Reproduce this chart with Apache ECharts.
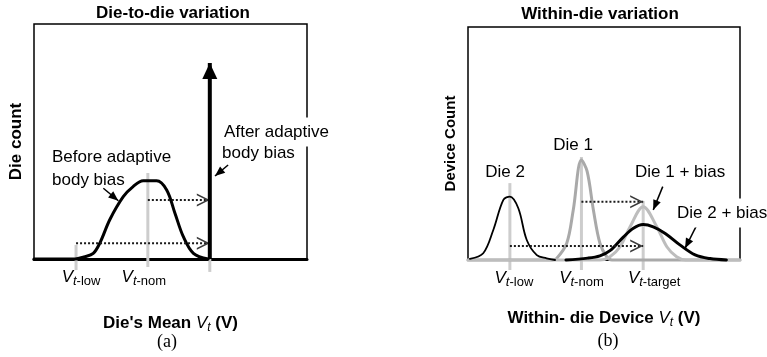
<!DOCTYPE html>
<html>
<head>
<meta charset="utf-8">
<script src="https://cdn.jsdelivr.net/npm/echarts@6/dist/echarts.min.js"></script>
<style>
  html, body { margin: 0; padding: 0; background: #fff; }
  #chart { width: 767px; height: 357px; }
</style>
</head>
<body>
<div id="chart"></div>
<script>
// ---- Vt markers shared by both panels (arbitrary units along the Vt axis) ----
const vtTicks = [15.4, 41.7, 64.4];
const vtTickNames = ['low', 'nom', 'target'];

// ---- (a) Die-to-die variation ----
const dieMeanVt = [0, 15.0, 18.3, 21.7, 24.2, 27.8, 32.7, 36.3, 40.0, 44.9, 48.6, 51.6, 54.7, 58.4, 63.8];
const dieCountBefore = [0, 0, 0.9, 2.4, 7.0, 16.8, 26.5, 30.8, 33.3, 33.3, 29.4, 19.6, 9.5, 2.4, 0];
const dieCountAfter = 83.4;              // every die lands on Vt-target
const shiftFromA = [41.7, 15.4];         // body-bias shift arrows start here ...
const shiftLevelA = [25.1, 6.7];         // ... at these counts, and end at Vt-target
const markerSpanA = [[-4.7, 6.0], [-3.4, 36.6], [-5.5, 0]];

// ---- (b) Within-die variation ----
const die2Vt = [0.7, 5.6, 9.3, 13.0, 15.4, 18.5, 21.6, 25.3, 28.9, 32.0];
const die2Count = [0.5, 2.9, 12.9, 25.8, 27.2, 22.2, 8.6, 2.1, 0.7, 0];
const die1Vt = [0, 30.9, 32.6, 36.3, 38.7, 41.7, 43.8, 46.1, 48.5, 51.0, 52.9, 100];
const die1Count = [0, 0, 0.7, 7.2, 21.5, 42.9, 38.0, 21.5, 7.2, 1.4, 0, 0];
const die1BiasVt = [0, 48.5, 52.2, 55.9, 59.6, 64.4, 69.4, 73.1, 76.7, 80.1, 100];
const die1BiasCount = [0, 0, 1.4, 5.7, 14.3, 22.9, 14.3, 5.7, 1.4, 0, 0];
const die2BiasVt = [36.0, 44.0, 48.5, 52.2, 57.1, 60.8, 64.4, 68.1, 72.5, 77.9, 83.5, 89.0, 95.0];
const die2BiasCount = [0, 0.8, 1.8, 4.0, 9.8, 13.6, 15.2, 14.2, 11.4, 6.5, 2.2, 0.6, 0];
const shiftFromB = [41.7, 15.4];
const shiftLevelB = [25.0, 6.0];
const markerSpanB = [[-4.3, 33.0], [-4.3, 44.2], [-4.3, 25.3]];

// ---- text annotations: [x, y, text] ----
const notesA = [
  [6.6, 43.4, 'Before adaptive'],
  [6.6, 33.6, 'body bias'],
  [68.9, 54.0, 'After adaptive'],
  [68.9, 45.1, 'body bias']
];
const pointersA = [[[25.4, 30.1], [30.9, 24.8]], [[71.1, 40.0], [66.3, 35.3]]];
const notesB = [
  [38.6, 49.4, 'Die 1'],
  [13.6, 37.8, 'Die 2'],
  [61.4, 37.8, 'Die 1 + bias'],
  [76.1, 20.2, 'Die 2 + bias']
];
const pointersB = [[[71.6, 31.5], [68.1, 21.5]], [[84.1, 15.0], [79.8, 5.0]]];

const SANS = '"Liberation Sans", Arial, sans-serif';
const SERIF = '"Liberation Serif", "Times New Roman", serif';
const MARKER_GRAY = '#cdcdcd';
const CHEVRON = 'path://M0,0 L13,6.5 L0,13 L0,11.2 L9.6,6.5 L0,1.8 Z';

const chart = echarts.init(document.getElementById('chart'));

function pairs(xs, ys) { return xs.map((x, i) => [x, ys[i]]); }

function curve(g, xs, ys, color, width) {
  return {
    type: 'line', xAxisIndex: g, yAxisIndex: g, data: pairs(xs, ys),
    smooth: 0.35, symbol: 'none', clip: false, silent: true,
    lineStyle: { color: color, width: width, cap: 'round', join: 'round' }
  };
}

function markers(g, spans) {
  return vtTicks.map((x, i) => ({
    type: 'line', xAxisIndex: g, yAxisIndex: g, symbol: 'none', clip: false, silent: true,
    data: [[x, spans[i][0]], [x, spans[i][1]]],
    lineStyle: { color: MARKER_GRAY, width: 3, cap: 'butt' }
  }));
}

function shifts(g, froms, levels) {
  const out = [];
  froms.forEach((x0, i) => {
    out.push({
      type: 'line', xAxisIndex: g, yAxisIndex: g, symbol: 'none', clip: false, silent: true,
      data: [[x0, levels[i]], [vtTicks[2], levels[i]]],
      lineStyle: { color: '#1a1a1a', width: 2, type: [2, 2] }
    });
  });
  out.push({
    type: 'scatter', xAxisIndex: g, yAxisIndex: g, silent: true, clip: false,
    symbol: CHEVRON, symbolSize: [13, 13], symbolOffset: [-6.5, 0],
    itemStyle: { color: '#3a3a3a', opacity: 1 }, z: 4,
    data: levels.map(l => [vtTicks[2], l])
  });
  return out;
}

function notes(g, list, centered, whiteIdx) {
  return {
    type: 'scatter', xAxisIndex: g, yAxisIndex: g, silent: true, clip: false,
    symbolSize: 0, z: 6, itemStyle: { opacity: 1 },
    data: list.map((n, i) => ({
      value: [n[0], n[1]],
      label: {
        show: true, formatter: n[2], position: [0, 0], opacity: 1,
        align: centered.indexOf(i) >= 0 ? 'center' : 'left', verticalAlign: 'middle',
        fontFamily: SANS, fontSize: 17, color: '#000', textBorderWidth: 0,
        backgroundColor: i === whiteIdx ? '#fff' : 'transparent',
        padding: i === whiteIdx ? [6, 2, 6, 2] : 0
      }
    }))
  };
}

function pointers(g, list) {
  return {
    type: 'line', xAxisIndex: g, yAxisIndex: g, data: [], silent: true,
    markLine: {
      silent: true, animation: false,
      symbol: ['none', 'triangle'], symbolSize: [8, 10], symbolOffset: [[0, 0], [0, 5]],
      lineStyle: { color: '#000', width: 1.5, type: 'solid' },
      label: { show: false },
      emphasis: { disabled: true },
      data: list.map(p => [{ coord: p[0] }, { coord: p[1] }])
    }
  };
}

// tick labels: V with subscript "t-xxx", nudged sideways by `shift` px
function tickLabels(shift) {
  const rich = {};
  vtTickNames.forEach((n, i) => {
    const s = shift[i];
    rich['v' + i] = { fontFamily: SANS, fontSize: 17, fontStyle: 'italic', color: '#000', lineHeight: 22,
                      padding: [0, 0, 0, s > 0 ? 2 * s : 0] };
    rich['t' + i] = { fontFamily: SANS, fontSize: 13, fontStyle: 'italic', color: '#000', lineHeight: 8, verticalAlign: 'bottom' };
    rich['s' + i] = { fontFamily: SANS, fontSize: 13, color: '#000', lineHeight: 8, verticalAlign: 'bottom',
                      padding: [0, s < 0 ? -2 * s : 0, 0, 0] };
  });
  return {
    show: true, customValues: vtTicks, margin: 7,
    formatter: v => {
      const i = vtTicks.indexOf(v);
      return i < 0 ? '' : '{v' + i + '|V}{t' + i + '|t}{s' + i + '|-' + vtTickNames[i] + '}';
    },
    rich: rich
  };
}

const nameRich = {
  b: { fontFamily: SANS, fontSize: 17, fontWeight: 'bold', color: '#000', lineHeight: 22 },
  v: { fontFamily: SANS, fontSize: 17, fontStyle: 'italic', color: '#000', lineHeight: 22 },
  t: { fontFamily: SANS, fontSize: 12, fontStyle: 'italic', color: '#000', lineHeight: 8, verticalAlign: 'bottom' }
};

function xAxis(g, name, gap, axisWidth, shift) {
  return {
    type: 'value', gridIndex: g, min: 0, max: 100,
    splitLine: { show: false }, axisTick: { show: false },
    axisLine: { show: true, lineStyle: { color: '#000', width: axisWidth } },
    axisLabel: tickLabels(shift),
    name: name, nameLocation: 'middle', nameGap: gap,
    nameTextStyle: { rich: nameRich }
  };
}

function yAxis(g, name, size, gap) {
  return {
    type: 'value', gridIndex: g, min: 0, max: 100,
    splitLine: { show: false }, axisTick: { show: false }, axisLabel: { show: false },
    axisLine: { show: false },
    name: name, nameLocation: 'middle', nameRotate: 90, nameGap: gap,
    nameTextStyle: { fontFamily: SANS, fontSize: size, fontWeight: 'bold', color: '#000' }
  };
}

const titleStyle = { fontFamily: SANS, fontSize: 17, fontWeight: 'bold', color: '#000' };
const tagStyle = { fontFamily: SERIF, fontSize: 18, fontWeight: 'normal', color: '#000' };

chart.setOption({
  animation: false,
  backgroundColor: '#fff',
  title: [
    { text: 'Die-to-die variation', left: 173, top: 5, textAlign: 'center', padding: 0, textStyle: titleStyle },
    { text: 'Within-die variation', left: 600, top: 6, textAlign: 'center', padding: 0, textStyle: titleStyle },
    { text: '(a)', left: 167, top: 333, textAlign: 'center', padding: 0, textStyle: tagStyle },
    { text: '(b)', left: 608, top: 332, textAlign: 'center', padding: 0, textStyle: tagStyle }
  ],
  grid: [
    { left: 34, top: 24, width: 273, height: 235, show: true, borderColor: '#000', borderWidth: 1.5, backgroundColor: 'transparent' },
    { left: 468, top: 27, width: 272, height: 233, show: true, borderColor: '#000', borderWidth: 1.5, backgroundColor: 'transparent' }
  ],
  xAxis: [
    xAxis(0, "{b|Die's Mean }{v|V}{t|t}{b| (V)}", 53, 3, [5, -4, 11]),
    xAxis(1, '{b|Within- die Device }{v|V}{t|t}{b| (V)}', 47, 1.5, [4, 0, 11])
  ],
  yAxis: [
    yAxis(0, 'Die count', 17, 9),
    yAxis(1, 'Device Count', 15, 10)
  ],
  series: [
    // (a)
    ...markers(0, markerSpanA),
    curve(0, dieMeanVt, dieCountBefore, '#000', 3),
    {
      type: 'line', xAxisIndex: 0, yAxisIndex: 0, clip: false, silent: true, z: 5,
      lineStyle: { color: '#000', width: 4 }, itemStyle: { color: '#000' },
      data: [
        { value: [vtTicks[2], 0], symbol: 'none' },
        { value: [vtTicks[2], dieCountAfter], symbol: 'triangle', symbolSize: [15, 16], symbolOffset: [0, '50%'] }
      ]
    },
    ...shifts(0, shiftFromA, shiftLevelA),
    pointers(0, pointersA),
    notes(0, notesA, [], 2),
    // (b)
    ...markers(1, markerSpanB),
    curve(1, die1Vt, die1Count, '#a9a9a9', 3),
    curve(1, die1BiasVt, die1BiasCount, '#bdbdbd', 3),
    curve(1, die2Vt, die2Count, '#000', 1.8),
    curve(1, die2BiasVt, die2BiasCount, '#000', 3),
    ...shifts(1, shiftFromB, shiftLevelB),
    pointers(1, pointersB),
    notes(1, notesB, [0, 1], 3)
  ]
});
</script>
</body>
</html>
